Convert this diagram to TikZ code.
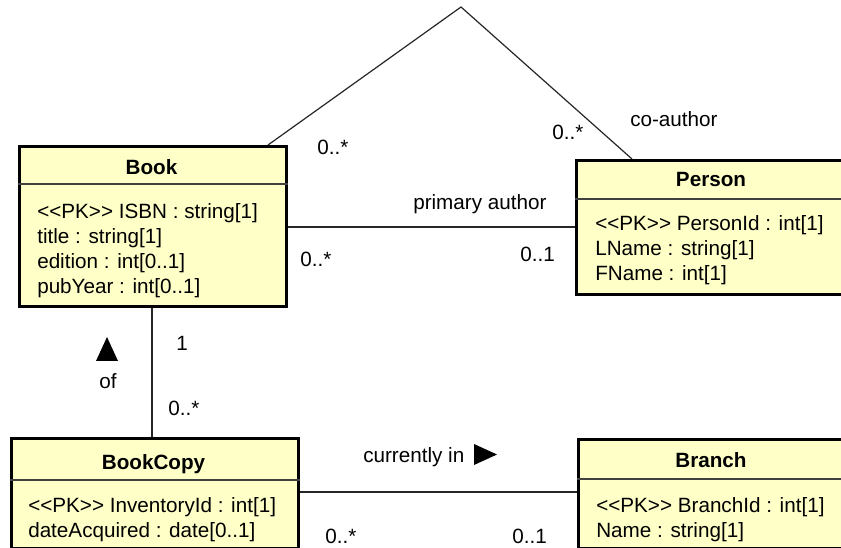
\documentclass[tikz,border=0pt]{standalone}
\usepackage{fontspec}
\setmainfont{Liberation Sans}[Ligatures=TeXOff]
\definecolor{umlfill}{RGB}{255,255,200}
\begin{document}
\begin{tikzpicture}[x=0.75pt,y=-0.75pt,
  umlbox/.style={draw=black,line width=2.3pt,fill=umlfill,rectangle,anchor=north west,inner sep=0pt},
  sepline/.style={line width=1.1pt,draw=black!75},
  conn/.style={line width=0.9pt,draw=black!85},
  txt/.style={anchor=base west,inner sep=0pt,font=\fontsize{15.5pt}{18pt}\selectfont},
  txtr/.style={anchor=base east,inner sep=0pt,font=\fontsize{15.5pt}{18pt}\selectfont},
  head/.style={anchor=base,inner sep=0pt,font=\fontsize{15.5pt}{18pt}\selectfont\bfseries}]
\fill[white] (0,0) rectangle (841,548);
\useasboundingbox (0,0) rectangle (841,548);
\clip (0,0) rectangle (841,548);
% boxes (positions)
\coordinate (apex) at (461,7);
\node[umlbox,minimum width=200.25pt,minimum height=120pt] (book) at (18,145) {};
\node[umlbox,minimum width=221.25pt,minimum height=100.5pt] (person) at (575,159) {};
\node[umlbox,minimum width=215.25pt,minimum height=82.5pt] (bookcopy) at (10,437) {};
\node[umlbox,minimum width=219.75pt,minimum height=81.75pt] (branch) at (577,438) {};
% connectors
\draw[conn] (268,0 |- book.north) -- (apex) -- (632,0 |- person.north);
\draw[conn] (book.east |- 0,227) -- (person.west |- 0,227);
\draw[conn] (152,0 |- book.south) -- (152,0 |- bookcopy.north);
\draw[conn] (bookcopy.east |- 0,492) -- (branch.west |- 0,492);
% redraw boxes on top of connector ends
\node[umlbox,minimum width=200.25pt,minimum height=120pt] at (18,145) {};
\node[umlbox,minimum width=221.25pt,minimum height=100.5pt] at (575,159) {};
\node[umlbox,minimum width=215.25pt,minimum height=82.5pt] at (10,437) {};
\node[umlbox,minimum width=219.75pt,minimum height=81.75pt] at (577,438) {};
% separators
\draw[sepline] (book.west |- 0,184) -- (book.east |- 0,184);
\draw[sepline] (person.west |- 0,199) -- (person.east |- 0,199);
\draw[sepline] (bookcopy.west |- 0,480) -- (bookcopy.east |- 0,480);
\draw[sepline] (branch.west |- 0,479) -- (branch.east |- 0,479);
% Book
\node[head] (bookh) at (151.5,175) {Book};
\node[txt] (b1) at (37,219) {<<PK>> ISBN : string[1]};
\node[txt] (b2) at (37,244) {title : string[1]};
\node[txt] (b3) at (37,269) {edition : int[0..1]};
\node[txt] (b4) at (37,294) {pubYear : int[0..1]};
% Person
\node[head] (personh) at (711,187) {Person};
\node[txt] (p1) at (595,231) {<<PK>> PersonId : int[1]};
\node[txt] (p2) at (595,256) {LName : string[1]};
\node[txt] (p3) at (595,281) {FName : int[1]};
% BookCopy
\node[head] (bookcopyh) at (153.5,469) {BookCopy};
\node[txt] (c1) at (28,512) {<<PK>> InventoryId : int[1]};
\node[txt] (c2) at (28,537) {dateAcquired : date[0..1]};
% Branch
\node[head] (branchh) at (711,467) {Branch};
\node[txt] (r1) at (596,512) {<<PK>> BranchId : int[1]};
\node[txt] (r2) at (596,537) {Name : string[1]};
% association labels
\node[txt] (m1) at (317,155) {0..*};
\node[txt] (m2) at (552,140) {0..*};
\node[txt] (coa) at (630,127) {co-author};
\node[txt] (pa) at (413,210) {primary author};
\node[txt] (m3) at (300,267) {0..*};
\node[txtr] (m4) at (555,262) {0..1};
\node[txt] (m5) at (176,350) {1};
\node[anchor=base,inner sep=0pt,font=\fontsize{15.5pt}{18pt}\selectfont] (of) at (108,388) {of};
\node[txt] (m6) at (168,415) {0..*};
\fill (96,361) -- (118,361) -- (107,337) -- cycle;
\node[txt] (ci) at (363,462) {currently in};
\fill (474,444) -- (497,454.5) -- (474,465) -- cycle;
\node[txt] (m7) at (325,543) {0..*};
\node[txtr] (m8) at (547,543) {0..1};
\end{tikzpicture}
\end{document}
